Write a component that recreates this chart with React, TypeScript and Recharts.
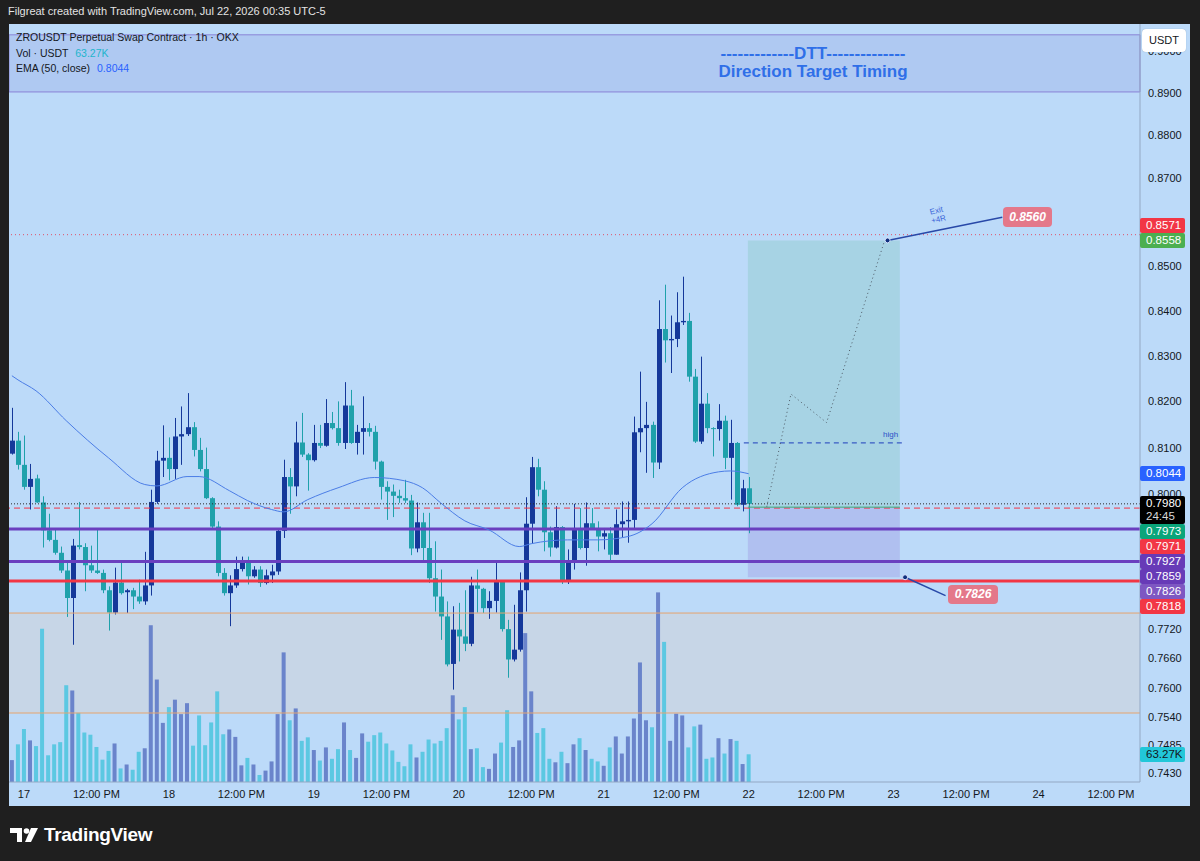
import React from "react";
import {
  Bar,
  ComposedChart,
  Line,
  ReferenceArea,
  ReferenceDot,
  ReferenceLine,
  XAxis,
  YAxis,
} from "recharts";

// hourly candles, first one is Jul 16 22:00 (hour -2 relative to the 17th)
const firstHour = -2;

const opens = [
  0.8087, 0.8115, 0.8063, 0.8016, 0.8034, 0.7983, 0.7924, 0.7904, 0.7877, 0.784, 0.7783, 0.7893, 0.7889,
  0.7851, 0.784, 0.7835, 0.7799, 0.7753, 0.7815, 0.7795, 0.7799, 0.7786, 0.7776, 0.7809, 0.7984, 0.8072,
  0.8078, 0.8054, 0.8124, 0.8129, 0.8144, 0.8095, 0.8054, 0.7992, 0.7932, 0.7835, 0.7793, 0.7809, 0.7843,
  0.7859, 0.7828, 0.7842, 0.7814, 0.783, 0.7838, 0.7923, 0.8037, 0.8017, 0.8111, 0.8085, 0.8073, 0.811,
  0.8104, 0.8153, 0.8142, 0.811, 0.8191, 0.811, 0.8134, 0.8142, 0.8134, 0.807, 0.8016, 0.8006, 0.7997,
  0.7992, 0.7987, 0.7886, 0.7941, 0.7887, 0.7824, 0.7786, 0.7745, 0.7648, 0.7718, 0.7704, 0.7689, 0.7809,
  0.7802, 0.7762, 0.7777, 0.7817, 0.7719, 0.7657, 0.7677, 0.7799, 0.7938, 0.8058, 0.801, 0.792, 0.7888,
  0.7931, 0.7817, 0.7859, 0.7929, 0.7887, 0.7939, 0.7929, 0.7911, 0.7918, 0.7873, 0.7937, 0.7943, 0.7946,
  0.8133, 0.8142, 0.8149, 0.8068, 0.8359, 0.8334, 0.8337, 0.8374, 0.8377, 0.8254, 0.8113, 0.8195, 0.8142,
  0.814, 0.8158, 0.8078, 0.811, 0.7978, 0.8013,
];
const highs = [
  0.8186, 0.8134, 0.8126, 0.8065, 0.8042, 0.7996, 0.7959, 0.7927, 0.789, 0.7859, 0.7906, 0.7984, 0.7897,
  0.7892, 0.7925, 0.7842, 0.7807, 0.7846, 0.786, 0.7802, 0.7804, 0.7821, 0.7879, 0.801, 0.8093, 0.8148,
  0.8122, 0.8164, 0.8189, 0.8218, 0.8155, 0.8121, 0.81, 0.7994, 0.7943, 0.7845, 0.783, 0.7869, 0.7869,
  0.7869, 0.7849, 0.7849, 0.7842, 0.7852, 0.7925, 0.8074, 0.8056, 0.8156, 0.8175, 0.8088, 0.8149, 0.8149,
  0.8205, 0.8177, 0.82, 0.8242, 0.8225, 0.8149, 0.8211, 0.8153, 0.8147, 0.8072, 0.8028, 0.8021, 0.801,
  0.8031, 0.7999, 0.7983, 0.7961, 0.7961, 0.7901, 0.7842, 0.7776, 0.7766, 0.7773, 0.7799, 0.7827, 0.7842,
  0.7804, 0.7797, 0.7859, 0.7819, 0.7738, 0.7769, 0.7836, 0.7994, 0.808, 0.8076, 0.8028, 0.7932, 0.7975,
  0.7933, 0.7884, 0.798, 0.7971, 0.7983, 0.7971, 0.7943, 0.7929, 0.7931, 0.7968, 0.7985, 0.7985, 0.8167,
  0.8265, 0.8199, 0.8156, 0.8423, 0.8458, 0.8389, 0.8441, 0.8476, 0.8395, 0.8271, 0.8298, 0.8218, 0.8144,
  0.8194, 0.8169, 0.816, 0.8112, 0.8031, 0.8037,
];
const lows = [
  0.8085, 0.8053, 0.801, 0.7968, 0.7982, 0.7888, 0.7901, 0.7873, 0.7835, 0.7744, 0.7687, 0.7884, 0.7797,
  0.7835, 0.7833, 0.7793, 0.7716, 0.7749, 0.779, 0.7752, 0.776, 0.7771, 0.7769, 0.7788, 0.798, 0.8037,
  0.803, 0.8033, 0.8063, 0.8125, 0.8081, 0.8049, 0.799, 0.7929, 0.7828, 0.7788, 0.7725, 0.7804, 0.7838,
  0.7811, 0.7825, 0.7806, 0.7811, 0.7814, 0.7831, 0.7908, 0.7959, 0.7996, 0.808, 0.8008, 0.807, 0.8099,
  0.8102, 0.8139, 0.8104, 0.8097, 0.8108, 0.8085, 0.8085, 0.8124, 0.8053, 0.7989, 0.7946, 0.7952, 0.7982,
  0.7982, 0.7872, 0.7878, 0.7856, 0.7814, 0.7755, 0.7697, 0.7643, 0.7596, 0.7653, 0.7674, 0.7684, 0.7753,
  0.7752, 0.774, 0.7753, 0.7714, 0.762, 0.7653, 0.7673, 0.7755, 0.7897, 0.7996, 0.788, 0.7869, 0.7886,
  0.7812, 0.7812, 0.7842, 0.7884, 0.785, 0.7925, 0.788, 0.7884, 0.7857, 0.7873, 0.791, 0.7898, 0.7929,
  0.809, 0.8046, 0.8035, 0.8054, 0.8285, 0.8262, 0.8319, 0.8368, 0.8243, 0.811, 0.8108, 0.8131, 0.8081,
  0.8115, 0.8054, 0.7989, 0.7975, 0.7964, 0.7918,
];
const closes = [
  0.8115, 0.8063, 0.8016, 0.8033, 0.7983, 0.7924, 0.7904, 0.7877, 0.784, 0.7783, 0.7892, 0.7889, 0.7851,
  0.784, 0.7835, 0.7799, 0.7753, 0.7815, 0.7793, 0.7799, 0.7786, 0.7776, 0.7809, 0.7984, 0.8072, 0.8078,
  0.8054, 0.8124, 0.8129, 0.8144, 0.8095, 0.8054, 0.7992, 0.7932, 0.7835, 0.7793, 0.7809, 0.7843, 0.7859,
  0.7828, 0.7842, 0.7814, 0.783, 0.7838, 0.7923, 0.8037, 0.8017, 0.8111, 0.8085, 0.8073, 0.811, 0.8104,
  0.8153, 0.8142, 0.811, 0.8191, 0.811, 0.8134, 0.8142, 0.8134, 0.807, 0.8016, 0.8006, 0.7997, 0.7992,
  0.7987, 0.7886, 0.7941, 0.7887, 0.7824, 0.7786, 0.7745, 0.7647, 0.7718, 0.7704, 0.7689, 0.7809, 0.7802,
  0.7762, 0.7777, 0.7817, 0.7719, 0.7657, 0.7677, 0.7799, 0.7938, 0.8058, 0.801, 0.792, 0.7888, 0.7931,
  0.7817, 0.7859, 0.7929, 0.7887, 0.7939, 0.7929, 0.7911, 0.7918, 0.7873, 0.7937, 0.7943, 0.7946, 0.8133,
  0.8142, 0.8149, 0.8068, 0.8359, 0.8334, 0.8337, 0.8374, 0.8377, 0.8254, 0.8113, 0.8195, 0.8142, 0.814,
  0.8158, 0.8078, 0.811, 0.7978, 0.8013, 0.798,
];
// volume in thousands of USDT
const volumes = [
  50, 86, 121, 95, 82, 350, 61, 86, 91, 221, 209, 158, 113, 108, 80, 51, 71, 88, 31, 40, 28, 69, 77, 358,
  234, 135, 171, 188, 155, 180, 83, 152, 84, 136, 207, 109, 120, 103, 38, 55, 40, 16, 26, 47, 155, 296, 141,
  168, 94, 102, 73, 49, 79, 53, 75, 136, 73, 55, 111, 92, 107, 113, 88, 72, 46, 36, 86, 56, 69, 97, 88, 94,
  123, 198, 143, 171, 75, 77, 34, 30, 65, 90, 164, 80, 95, 340, 207, 112, 123, 53, 45, 69, 43, 86, 100, 73,
  53, 47, 37, 79, 104, 65, 104, 145, 273, 141, 125, 433, 320, 94, 156, 152, 79, 127, 131, 53, 56, 100, 65,
  98, 94, 41, 63.27,
];

// EMA(50) at a few hours
const emaHours = [-2, -1, 2, 7, 14, 20, 22, 27, 29, 34, 37, 41, 43, 47, 52, 58, 63, 66, 69, 73, 77, 82, 84, 90, 95, 100, 104, 109, 115, 117, 120];
const emaValues = [
  0.8256, 0.8247, 0.8223, 0.8158, 0.8078, 0.8021, 0.8018, 0.8038, 0.8038, 0.8008, 0.7987, 0.7968, 0.7963,
  0.7989, 0.8014, 0.8036, 0.8029, 0.8014, 0.7982, 0.7944, 0.7925, 0.789, 0.7896, 0.7904, 0.7904, 0.7911,
  0.7938, 0.8014, 0.8048, 0.805, 0.8044,
];

// projected path drawn inside the position box
const pathHours = [123, 127, 132.9, 142.4];
const pathPrices = [0.7974, 0.8216, 0.8154, 0.8553];

const xTickHours = [0, 12, 24, 36, 48, 60, 72, 84, 96, 108, 120, 132, 144, 156, 168, 180];
const xTickLabels = ["17", "12:00 PM", "18", "12:00 PM", "19", "12:00 PM", "20", "12:00 PM", "21", "12:00 PM", "22", "12:00 PM", "23", "12:00 PM", "24", "12:00 PM"];
const priceTicks = [0.9, 0.89, 0.88, 0.87, 0.85, 0.84, 0.83, 0.82, 0.81, 0.8, 0.772, 0.766, 0.76, 0.754, 0.7485, 0.743];

// levels
const lastPrice = 0.798;
const entry = 0.7973;
const target = 0.8558;
const stop = 0.7826;
const redDashed = 0.7971;
const redDotted = 0.8571;
const purpleA = 0.7927;
const purpleB = 0.7859;
const redLevel = 0.7818;
const zoneTop = 0.7752;
const zoneBottom = 0.7549;
const highLevel = 0.811;
const emaLast = 0.8044;
const volLast = 63.27;

const X_DOMAIN = [-2.48, 184.8];
const P_TOP = 0.9064;
const P_BOT = 0.7412;
const VOL_MAX = 1731;
const PLOT_Y = 24;
const PLOT_H = 758;

const UP = "#15389a";
const DOWN = "#1fa1ab";
const VOL_UP = "#6a84cb";
const VOL_DOWN = "#5cc8e2";
const FONT = "'Liberation Sans', Arial, sans-serif";

const rows = opens.map((o, i) => ({
  h: firstHour + i,
  open: o,
  high: highs[i],
  low: lows[i],
  close: closes[i],
  range: [lows[i], highs[i]],
  vol: volumes[i],
  up: closes[i] >= o,
}));
const emaRows = emaHours.map((h, i) => ({ h, ema: emaValues[i] }));
const pathRows = pathHours.map((h, i) => ({ h, p: pathPrices[i] }));

function Candle(props: any) {
  const { x, y, width, height, payload } = props;
  if (!payload || x == null || y == null) return null;
  const { open, close, high, low } = payload;
  const top = Math.min(y, y + height);
  const h = Math.abs(height);
  const span = Math.log(high) - Math.log(low) || 1;
  const at = (p: number) => top + (h * (Math.log(high) - Math.log(p))) / span;
  const color = close >= open ? UP : DOWN;
  const cx = Math.round(x + width / 2) + 0.5;
  const b1 = at(Math.max(open, close));
  const b2 = at(Math.min(open, close));
  return (
    <g>
      <line x1={cx} x2={cx} y1={top} y2={top + h} stroke={color} strokeWidth={1} />
      <rect x={cx - 2.5} y={b1} width={5} height={Math.max(1, b2 - b1)} fill={color} />
    </g>
  );
}

function VolBar(props: any) {
  const { x, y, width, height, payload } = props;
  if (!payload || x == null) return null;
  return <rect x={x} y={y} width={width} height={height} fill={payload.up ? VOL_UP : VOL_DOWN} />;
}

// pixel helper only used to stack the price tags on the right axis
const yPx = (p: number) =>
  PLOT_Y + (PLOT_H * (Math.log(P_TOP) - Math.log(p))) / (Math.log(P_TOP) - Math.log(P_BOT));

const TAG_H = 15;
const aboveTags = [
  { p: emaLast, bg: "#2962ff" },
  { p: target, bg: "#4caf50" },
  { p: redDotted, bg: "#f23645" },
];
const belowTags = [
  { p: entry, bg: "#0aa57a" },
  { p: redDashed, bg: "#f23645" },
  { p: purpleA, bg: "#673ab7" },
  { p: purpleB, bg: "#673ab7" },
  { p: stop, bg: "#7e57c2" },
  { p: redLevel, bg: "#f23645" },
];

function stackTags() {
  const curTop = yPx(lastPrice) - 7.5;
  const out: any[] = [];
  let up = curTop;
  aboveTags.forEach((t) => {
    const bottom = Math.min(yPx(t.p) + TAG_H / 2, up);
    out.push({ ...t, top: bottom - TAG_H });
    up = bottom - TAG_H;
  });
  let down = curTop + 28;
  belowTags.forEach((t) => {
    const top = Math.max(yPx(t.p) - TAG_H / 2, down);
    out.push({ ...t, top });
    down = top + TAG_H;
  });
  return { curTop, tags: out };
}

function Tag({ top, bg, text, color = "#fff" }: any) {
  return (
    <div
      style={{
        position: "absolute",
        left: 1140,
        top,
        width: 45,
        height: TAG_H,
        background: bg,
        color,
        fontSize: 11.5,
        lineHeight: TAG_H + "px",
        paddingLeft: 6,
        boxSizing: "border-box",
        borderRadius: 2,
      }}
    >
      {text}
    </div>
  );
}

export default function App() {
  const { curTop, tags } = stackTags();
  const volY = PLOT_Y + PLOT_H - (volLast / VOL_MAX) * PLOT_H;
  const txt = { position: "absolute" as const, whiteSpace: "nowrap" as const };

  return (
    <div
      style={{
        position: "absolute",
        left: 0,
        top: 0,
        width: 1200,
        height: 861,
        background: "#1f1f1f",
        fontFamily: FONT,
        overflow: "hidden",
      }}
    >
      <div style={{ ...txt, left: 8, top: 5, color: "#e3e3e3", fontSize: 11 }}>
        Filgreat created with TradingView.com, Jul 22, 2026 00:35 UTC-5
      </div>

      <div style={{ position: "absolute", left: 9, top: 24, width: 1181, height: 782, background: "#bcdaf9" }}>
        <ComposedChart width={1181} height={782} data={rows} margin={{ top: 0, right: 0, bottom: 0, left: 0 }}>
          <XAxis
            xAxisId="main"
            dataKey="h"
            type="number"
            domain={X_DOMAIN}
            allowDataOverflow
            ticks={xTickHours}
            tickFormatter={(v) => xTickLabels[xTickHours.indexOf(v)] ?? ""}
            tickLine={false}
            axisLine={{ stroke: "#93a8c4" }}
            height={24}
            tick={{ fontSize: 11, fill: "#131722" }}
            interval={0}
          />
          <XAxis xAxisId="v" dataKey="h" type="number" domain={X_DOMAIN} allowDataOverflow hide />
          <YAxis
            yAxisId="price"
            orientation="right"
            scale="log"
            domain={[P_BOT, P_TOP]}
            allowDataOverflow
            ticks={priceTicks}
            interval={0}
            tickFormatter={(v) => Number(v).toFixed(4)}
            tickLine={false}
            axisLine={{ stroke: "#93a8c4" }}
            width={50}
            tick={{ fontSize: 11, fill: "#131722" }}
          />
          <YAxis yAxisId="vol" domain={[0, VOL_MAX]} allowDataOverflow hide />

          <ReferenceArea xAxisId="main" yAxisId="price" y1={0.8902} y2={0.9038} fill="#a9c2f0" fillOpacity={0.7} stroke="#8a83d6" strokeWidth={1} ifOverflow="visible" />
          <ReferenceArea xAxisId="main" yAxisId="price" y1={zoneBottom} y2={zoneTop} fill="#d2d2d6" fillOpacity={0.5} stroke="none" />
          <ReferenceLine xAxisId="main" yAxisId="price" y={zoneTop} stroke="#e5a46e" strokeWidth={1} />
          <ReferenceLine xAxisId="main" yAxisId="price" y={zoneBottom} stroke="#e5a46e" strokeWidth={1} />

          <Bar xAxisId="v" yAxisId="vol" dataKey="vol" barSize={4} shape={VolBar} isAnimationActive={false} />

          <ReferenceArea xAxisId="main" yAxisId="price" x1={119.87} x2={145.03} y1={entry} y2={target} fill="#8ec9c9" fillOpacity={0.45} stroke="none" />
          <ReferenceArea xAxisId="main" yAxisId="price" x1={119.87} x2={145.03} y1={stop} y2={entry} fill="#9a8fe0" fillOpacity={0.35} stroke="none" />

          <ReferenceLine xAxisId="main" yAxisId="price" y={redDotted} stroke="#e0506a" strokeWidth={1} strokeDasharray="1 3" />
          <ReferenceLine xAxisId="main" yAxisId="price" y={lastPrice} stroke="#2b2b2b" strokeWidth={1} strokeDasharray="1 2" />
          <ReferenceLine xAxisId="main" yAxisId="price" y={redDashed} stroke="#f23645" strokeWidth={1} strokeDasharray="6 4" />
          <ReferenceLine xAxisId="main" yAxisId="price" y={purpleA} stroke="#6a3fbf" strokeWidth={3} />
          <ReferenceLine xAxisId="main" yAxisId="price" y={purpleB} stroke="#6a3fbf" strokeWidth={3} />
          <ReferenceLine xAxisId="main" yAxisId="price" y={redLevel} stroke="#f23645" strokeWidth={3} />
          <ReferenceLine xAxisId="main" yAxisId="price" segment={[{ x: 119.87, y: entry }, { x: 145.03, y: entry }]} stroke="#3dab78" strokeWidth={1} />
          <ReferenceLine xAxisId="main" yAxisId="price" segment={[{ x: 119.2, y: highLevel }, { x: 146, y: highLevel }]} stroke="#3a5cc4" strokeWidth={1.2} strokeDasharray="5 4" />

          <Bar xAxisId="main" yAxisId="price" dataKey="range" barSize={5} shape={Candle} isAnimationActive={false} />

          <Line xAxisId="main" yAxisId="price" data={emaRows} dataKey="ema" type="monotone" stroke="#4b7de6" strokeWidth={1} dot={false} isAnimationActive={false} />
          <Line xAxisId="main" yAxisId="price" data={pathRows} dataKey="p" type="linear" stroke="#4e5a66" strokeWidth={1} strokeDasharray="1 3" dot={false} isAnimationActive={false} />

          <ReferenceLine xAxisId="main" yAxisId="price" segment={[{ x: 143, y: target }, { x: 162, y: 0.8611 }]} stroke="#2848a8" strokeWidth={1.5} />
          <ReferenceLine xAxisId="main" yAxisId="price" segment={[{ x: 145.9, y: stop }, { x: 152.6, y: 0.7788 }]} stroke="#2848a8" strokeWidth={1.5} />
          <ReferenceDot xAxisId="main" yAxisId="price" x={143} y={target} r={2.5} fill="#10307f" stroke="#dbe6ff" strokeWidth={1} />
          <ReferenceDot xAxisId="main" yAxisId="price" x={145.9} y={stop} r={2.5} fill="#10307f" stroke="#dbe6ff" strokeWidth={1} />
        </ComposedChart>
      </div>

      {/* legend */}
      <div style={{ ...txt, left: 16, top: 30, fontSize: 10.5, color: "#131722", lineHeight: "15.5px" }}>
        <div>ZROUSDT Perpetual Swap Contract · 1h · OKX</div>
        <div>
          Vol · USDT <span style={{ color: "#22b5cc", marginLeft: 4 }}>63.27K</span>
        </div>
        <div>
          EMA (50, close) <span style={{ color: "#2962ff", marginLeft: 4 }}>0.8044</span>
        </div>
      </div>

      {/* DTT caption */}
      <div style={{ ...txt, left: 613, width: 400, top: 45, textAlign: "center", color: "#2f6fe8", fontSize: 17, fontWeight: 700, lineHeight: "18px" }}>
        <div>-------------DTT--------------</div>
        <div>Direction Target Timing</div>
      </div>

      {/* drawing labels */}
      <div style={{ ...txt, left: 883, top: 430, fontSize: 8, color: "#2c50c8" }}>high</div>
      <div style={{ ...txt, left: 930, top: 206, fontSize: 8, color: "#3a64d8", transform: "rotate(-14deg)", textAlign: "center", lineHeight: "9px" }}>
        <div>Exit</div>
        <div>+4R</div>
      </div>
      <div style={{ ...txt, left: 1003, top: 207, width: 49, height: 20, background: "#e4788a", borderRadius: 4, color: "#fff", fontWeight: 700, fontStyle: "italic", fontSize: 12, lineHeight: "20px", textAlign: "center" }}>
        0.8560
      </div>
      <div style={{ ...txt, left: 948, top: 585, width: 50, height: 19, background: "#e4788a", borderRadius: 4, color: "#fff", fontWeight: 700, fontStyle: "italic", fontSize: 12, lineHeight: "19px", textAlign: "center" }}>
        0.7826
      </div>

      {/* right axis tags */}
      {tags.map((t, i) => (
        <Tag key={i} top={t.top} bg={t.bg} text={t.p.toFixed(4)} />
      ))}
      <div
        style={{
          position: "absolute",
          left: 1140,
          top: curTop,
          width: 45,
          height: 28,
          background: "#000",
          color: "#fff",
          fontSize: 11.5,
          lineHeight: "13px",
          paddingLeft: 6,
          paddingTop: 1,
          boxSizing: "border-box",
          borderRadius: 2,
        }}
      >
        <div>{lastPrice.toFixed(4)}</div>
        <div style={{ color: "#d8d8d8" }}>24:45</div>
      </div>
      <Tag top={volY - TAG_H / 2} bg="#22c7d9" text="63.27K" color="#131722" />
      <div
        style={{
          position: "absolute",
          left: 1142,
          top: 29,
          width: 44,
          height: 23,
          background: "#fff",
          borderRadius: 4,
          fontSize: 11,
          lineHeight: "22px",
          textAlign: "center",
          color: "#131722",
          boxShadow: "0 0 1px rgba(0,0,0,0.3)",
        }}
      >
        USDT
      </div>

      {/* footer logo */}
      <div style={{ position: "absolute", left: 10, top: 824, display: "flex", alignItems: "center", color: "#fff" }}>
        <svg width={30} height={16} viewBox="0 0 30 16">
          <path d="M0 1 H12 V15 H7 V6 H0 Z" fill="#fff" />
          <circle cx={16.5} cy={4} r={2.8} fill="#fff" />
          <path d="M21 1 H28 L21 15 H15 Z" fill="#fff" />
        </svg>
        <span style={{ fontSize: 19, fontWeight: 700, marginLeft: 4, letterSpacing: -0.3 }}>TradingView</span>
      </div>
    </div>
  );
}
